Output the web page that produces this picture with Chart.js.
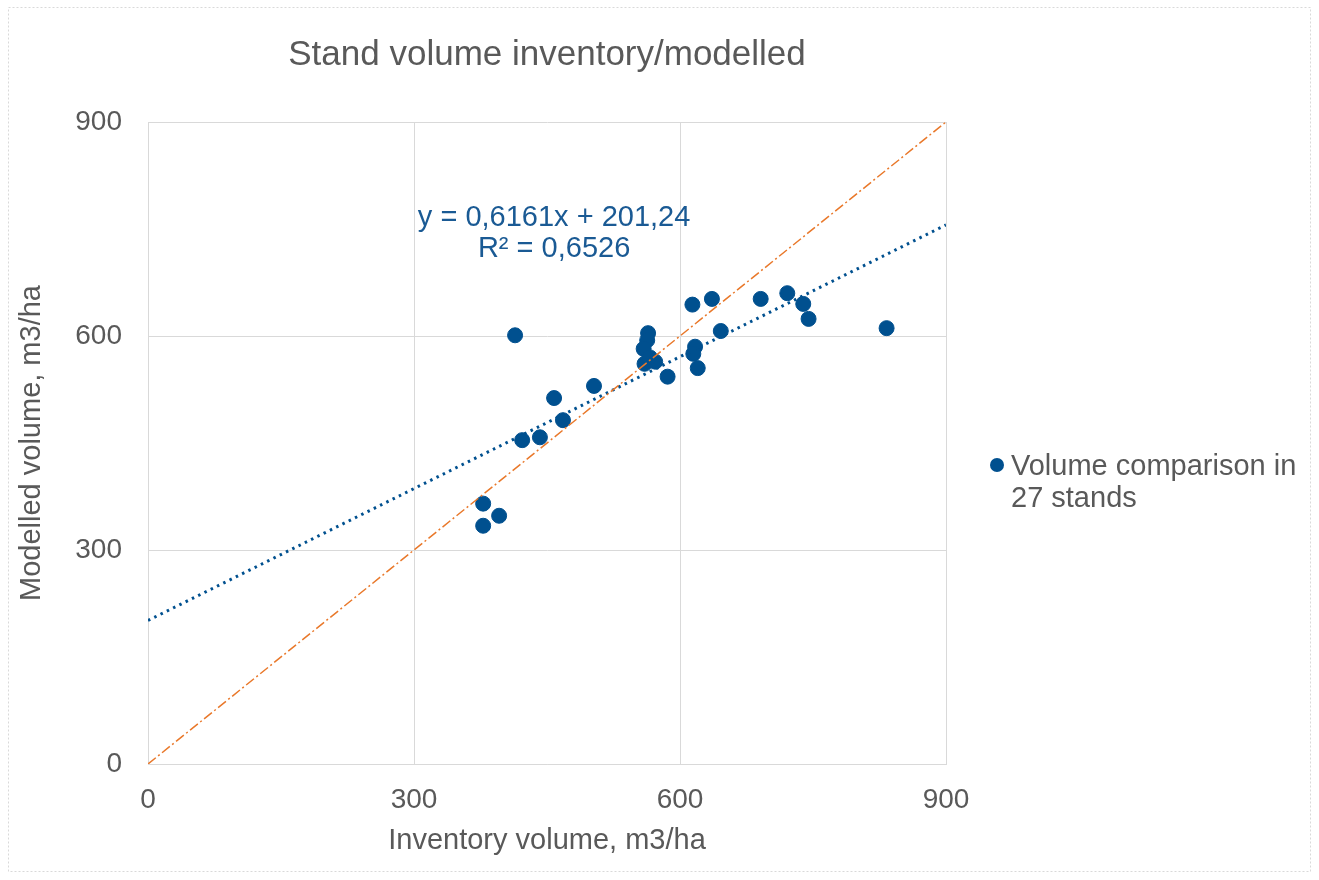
<!DOCTYPE html>
<html>
<head>
<meta charset="utf-8">
<script src="https://cdn.jsdelivr.net/npm/chart.js@4/dist/chart.umd.min.js"></script>
<style>
  html, body { margin: 0; padding: 0; background: #fff; }
  #wrap { width: 1319px; height: 880px; }
</style>
</head>
<body>
<div id="wrap"><canvas id="myChart" width="1319" height="880"></canvas></div>
<script>
// inventory volume (x) and modelled volume (y), m3/ha, 27 stands
var inventoryVol = [414, 378, 378, 396, 422, 442, 458, 468, 503, 564, 563, 559, 560, 572,
  566, 586, 614, 636, 617, 615, 620, 646, 691, 721, 739, 745, 833];
var modelledVol = [601, 365, 334, 348, 454, 458, 513, 482, 530, 604, 594, 582, 561, 564,
  570, 543, 644, 652, 585, 575, 555, 607, 652, 660, 645, 624, 611];
var trendSlope = 0.6161;
var trendIntercept = 201.24;
var trendR2 = 0.6526;
var axisTicks = [0, 300, 600, 900];
var seriesLabel = ["Volume comparison in", "27 stands"];

var FONT = "'Liberation Sans', Arial, sans-serif";
var GRAY = "#595959";
var BLUE = "#00508F";
var ORANGE = "#E9782A";

var points = inventoryVol.map(function (v, i) { return { x: v, y: modelledVol[i] }; });
var xMin = axisTicks[0], xMax = axisTicks[axisTicks.length - 1];
var trend = [
  { x: xMin, y: trendSlope * xMin + trendIntercept },
  { x: xMax, y: trendSlope * xMax + trendIntercept },
];
var diagonal = [{ x: xMin, y: xMin }, { x: xMax, y: xMax }];

function fmt(n, d) { return n.toFixed(d).replace(".", ","); }

// frame, legend and trendline equation
var extras = {
  id: "extras",
  beforeDraw: function (chart) {
    var c = chart.ctx;
    c.save();
    c.strokeStyle = "#D9D9D9";
    c.lineWidth = 1;
    c.setLineDash([2, 2]);
    c.strokeRect(8.5, 7.5, 1302, 864);
    c.restore();
  },
  afterDraw: function (chart) {
    var c = chart.ctx;
    var xs = chart.scales.x, ys = chart.scales.y;
    c.save();
    c.font = "29px " + FONT;
    c.fillStyle = "#1A5A94";
    c.textAlign = "center";
    c.textBaseline = "middle";
    var lx = xs.getPixelForValue(458), ly = ys.getPixelForValue(766);
    c.fillText("y = " + fmt(trendSlope, 4) + "x + " + fmt(trendIntercept, 2), lx, ly);
    c.fillText("R\u00b2 = " + fmt(trendR2, 4), lx, ly + 31);

    // legend
    c.fillStyle = BLUE;
    c.beginPath();
    c.arc(997, 465, 7, 0, Math.PI * 2);
    c.fill();
    c.fillStyle = GRAY;
    c.textAlign = "left";
    c.fillText(seriesLabel[0], 1011, 467);
    c.fillText(seriesLabel[1], 1011, 499);
    c.restore();
  },
};

var ctx1 = document.getElementById("myChart").getContext("2d");
var myChart1 = new Chart(ctx1, {
  type: "scatter",
  data: {
    datasets: [
      {
        label: seriesLabel.join(" "),
        data: points,
        backgroundColor: BLUE,
        borderColor: BLUE,
        pointRadius: 7.5,
        order: 2,
      },
      {
        label: "Trend",
        data: trend,
        showLine: true,
        pointRadius: 0,
        borderColor: BLUE,
        borderWidth: 3,
        borderDash: [2.5, 4.5],
        order: 1,
      },
      {
        label: "1:1",
        data: diagonal,
        showLine: true,
        pointRadius: 0,
        borderColor: ORANGE,
        borderWidth: 1.5,
        borderDash: [10, 3, 2, 3],
        order: 0,
      },
    ],
  },
  options: {
    responsive: false,
    animation: false,
    layout: { padding: { left: 0, right: 373, top: 0, bottom: 0 } },
    plugins: {
      legend: { display: false },
      tooltip: { enabled: false },
      title: {
        display: true,
        fullSize: false,
        text: "Stand volume inventory/modelled",
        color: GRAY,
        font: { family: FONT, size: 35, weight: "normal" },
        padding: { top: 34, bottom: 46 },
      },
    },
    scales: {
      x: {
        type: "linear",
        min: xMin,
        max: xMax,
        afterBuildTicks: function (s) { s.ticks = axisTicks.map(function (v) { return { value: v }; }); },
        afterFit: function (s) { s.height = 116; },
        ticks: { color: GRAY, font: { family: FONT, size: 28 }, padding: 19 },
        grid: { color: "#D9D9D9", drawTicks: false },
        border: { color: "#D9D9D9" },
        title: {
          display: true,
          text: "Inventory volume, m3/ha",
          color: GRAY,
          font: { family: FONT, size: 29 },
          padding: { top: 0, bottom: 22 },
        },
      },
      y: {
        type: "linear",
        min: xMin,
        max: xMax,
        afterBuildTicks: function (s) { s.ticks = axisTicks.map(function (v) { return { value: v }; }); },
        afterFit: function (s) { s.width = 148; },
        ticks: { color: GRAY, font: { family: FONT, size: 28 }, padding: 26 },
        grid: { color: "#D9D9D9", drawTicks: false },
        border: { color: "#D9D9D9" },
        title: {
          display: true,
          text: "Modelled volume, m3/ha",
          color: GRAY,
          font: { family: FONT, size: 29 },
          padding: { top: 15, bottom: 0 },
        },
      },
    },
  },
  plugins: [extras],
});
</script>
</body>
</html>
